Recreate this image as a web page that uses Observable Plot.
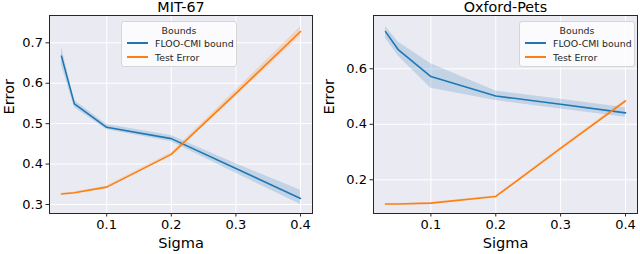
<!DOCTYPE html>
<html>
<head>
<meta charset="utf-8">
<script src="https://cdn.jsdelivr.net/npm/d3@7"></script>
<script src="https://cdn.jsdelivr.net/npm/@observablehq/plot@0.6"></script>
<style>
  html, body { margin: 0; padding: 0; background: #fff; }
  #wrap { position: relative; width: 640px; height: 254px; font-family: "DejaVu Sans", sans-serif; }
  .panel { position: absolute; top: 0; width: 320px; height: 254px; }
  .legend { position: absolute; box-sizing: border-box; background: rgba(255,255,255,0.8);
            border: 1px solid #d6d6d6; border-radius: 3px; font-size: 9.4px; color: #262626; }
  .legend .ttl { position: absolute; left: 0; right: 0; text-align: center; top: 3px; }
  .legend .row { position: absolute; left: 5px; height: 12px; display: flex; align-items: center; white-space: nowrap; }
  .legend .sw { width: 21px; height: 1.5px; margin-right: 7px; }
</style>
</head>
<body>
<div id="wrap"></div>
<script>
// ---- data ----
const sigma = [0.03, 0.05, 0.1, 0.2, 0.3, 0.4];
const xTicks = [0.1, 0.2, 0.3, 0.4];

const mitBound   = [0.667, 0.549, 0.491, 0.463, 0.389, 0.315];
const mitBoundLo = [0.645, 0.540, 0.485, 0.455, 0.377, 0.300];
const mitBoundHi = [0.690, 0.558, 0.498, 0.471, 0.401, 0.335];
const mitTest    = [0.326, 0.329, 0.343, 0.424, 0.575, 0.728];
const mitTestLo  = [0.324, 0.327, 0.340, 0.420, 0.567, 0.716];
const mitTestHi  = [0.328, 0.331, 0.346, 0.428, 0.583, 0.740];
const mitYTicks  = [0.3, 0.4, 0.5, 0.6, 0.7];

const petBound   = [0.734, 0.668, 0.572, 0.502, 0.472, 0.441];
const petBoundLo = [0.710, 0.645, 0.530, 0.486, 0.455, 0.425];
const petBoundHi = [0.752, 0.696, 0.618, 0.520, 0.490, 0.460];
const petTest    = [0.113, 0.113, 0.116, 0.140, 0.313, 0.484];
const petTestLo  = [0.111, 0.111, 0.114, 0.137, 0.309, 0.479];
const petTestHi  = [0.115, 0.115, 0.118, 0.143, 0.317, 0.489];
const petYTicks  = [0.2, 0.4, 0.6];

const seriesNames = ["FLOO-CMI bound", "Test Error"];
const colors = ["#1f77b4", "#ff7f0e"];

function rows(ys, lo, hi) {
  return sigma.map((s, i) => ({sigma: s, y: ys[i], lo: lo[i], hi: hi[i]}));
}

function panel(opts) {
  const bound = rows(opts.bound, opts.boundLo, opts.boundHi);
  const test = rows(opts.test, opts.testLo, opts.testHi);
  const dark = "#262626";
  return Plot.plot({
    width: 320, height: 254,
    marginLeft: opts.ml, marginRight: opts.mr, marginTop: 15, marginBottom: 41,
    style: {fontFamily: "DejaVu Sans, sans-serif", fontSize: "13px", background: "white", overflow: "visible"},
    x: {domain: [0.0115, 0.4185], ticks: xTicks, tickFormat: ".1f"},
    y: {domain: opts.ydomain, ticks: opts.yticks, tickFormat: ".1f"},
    marks: [
      Plot.frame({fill: "#EAEAF2"}),
      Plot.gridX(xTicks, {stroke: "white", strokeOpacity: 1, strokeWidth: 1}),
      Plot.gridY(opts.yticks, {stroke: "white", strokeOpacity: 1, strokeWidth: 1}),
      Plot.areaY(bound, {x: "sigma", y1: "lo", y2: "hi", fill: colors[0], fillOpacity: 0.2}),
      Plot.areaY(test, {x: "sigma", y1: "lo", y2: "hi", fill: colors[1], fillOpacity: 0.2}),
      Plot.lineY(bound, {x: "sigma", y: "y", stroke: colors[0], strokeWidth: 1.6}),
      Plot.lineY(test, {x: "sigma", y: "y", stroke: colors[1], strokeWidth: 1.6}),
      Plot.frame({stroke: dark, strokeWidth: 1}),
      Plot.axisX(xTicks, {label: null, tickSize: 3.5, tickPadding: 3, fontSize: 13, stroke: dark, color: "#000", tickFormat: ".1f"}),
      Plot.axisY(opts.yticks, {label: null, tickSize: 3.5, tickPadding: 3, fontSize: 13, stroke: dark, color: "#000", tickFormat: ".1f"}),
      Plot.text([opts.title], {frameAnchor: "top", dy: -4, lineAnchor: "bottom", fontSize: 14.3, fill: "#000"}),
      Plot.text(["Sigma"], {frameAnchor: "bottom", dy: 30, lineAnchor: "middle", fontSize: 14.6, fill: "#000"}),
      Plot.text(["Error"], {frameAnchor: "left", dx: -opts.ml + 9, rotate: -90, lineAnchor: "middle", fontSize: 14.6, fill: "#000"})
    ]
  });
}

function legend(left, top) {
  const lg = document.createElement("div");
  lg.className = "legend";
  lg.style.left = left + "px";
  lg.style.top = top + "px";
  lg.style.width = "116px";
  lg.style.height = "46px";
  const t = document.createElement("div");
  t.className = "ttl";
  t.textContent = "Bounds";
  lg.appendChild(t);
  seriesNames.forEach((name, i) => {
    const r = document.createElement("div");
    r.className = "row";
    r.style.top = (15 + i * 14) + "px";
    const sw = document.createElement("div");
    sw.className = "sw";
    sw.style.background = colors[i];
    r.appendChild(sw);
    const tx = document.createElement("span");
    tx.textContent = name;
    r.appendChild(tx);
    lg.appendChild(r);
  });
  return lg;
}

const wrap = document.getElementById("wrap");

const p1 = document.createElement("div");
p1.className = "panel"; p1.style.left = "0px";
p1.appendChild(panel({
  title: "MIT-67", ml: 49, mr: 8,
  ydomain: [0.2777, 0.7676], yticks: mitYTicks,
  bound: mitBound, boundLo: mitBoundLo, boundHi: mitBoundHi,
  test: mitTest, testLo: mitTestLo, testHi: mitTestHi
}));
wrap.appendChild(p1);

const p2 = document.createElement("div");
p2.className = "panel"; p2.style.left = "320px";
p2.appendChild(panel({
  title: "Oxford-Pets", ml: 53, mr: 3,
  ydomain: [0.0786, 0.792], yticks: petYTicks,
  bound: petBound, boundLo: petBoundLo, boundHi: petBoundHi,
  test: petTest, testLo: petTestLo, testHi: petTestHi
}));
wrap.appendChild(p2);

wrap.appendChild(legend(121, 21));
wrap.appendChild(legend(519, 21));
</script>
</body>
</html>
